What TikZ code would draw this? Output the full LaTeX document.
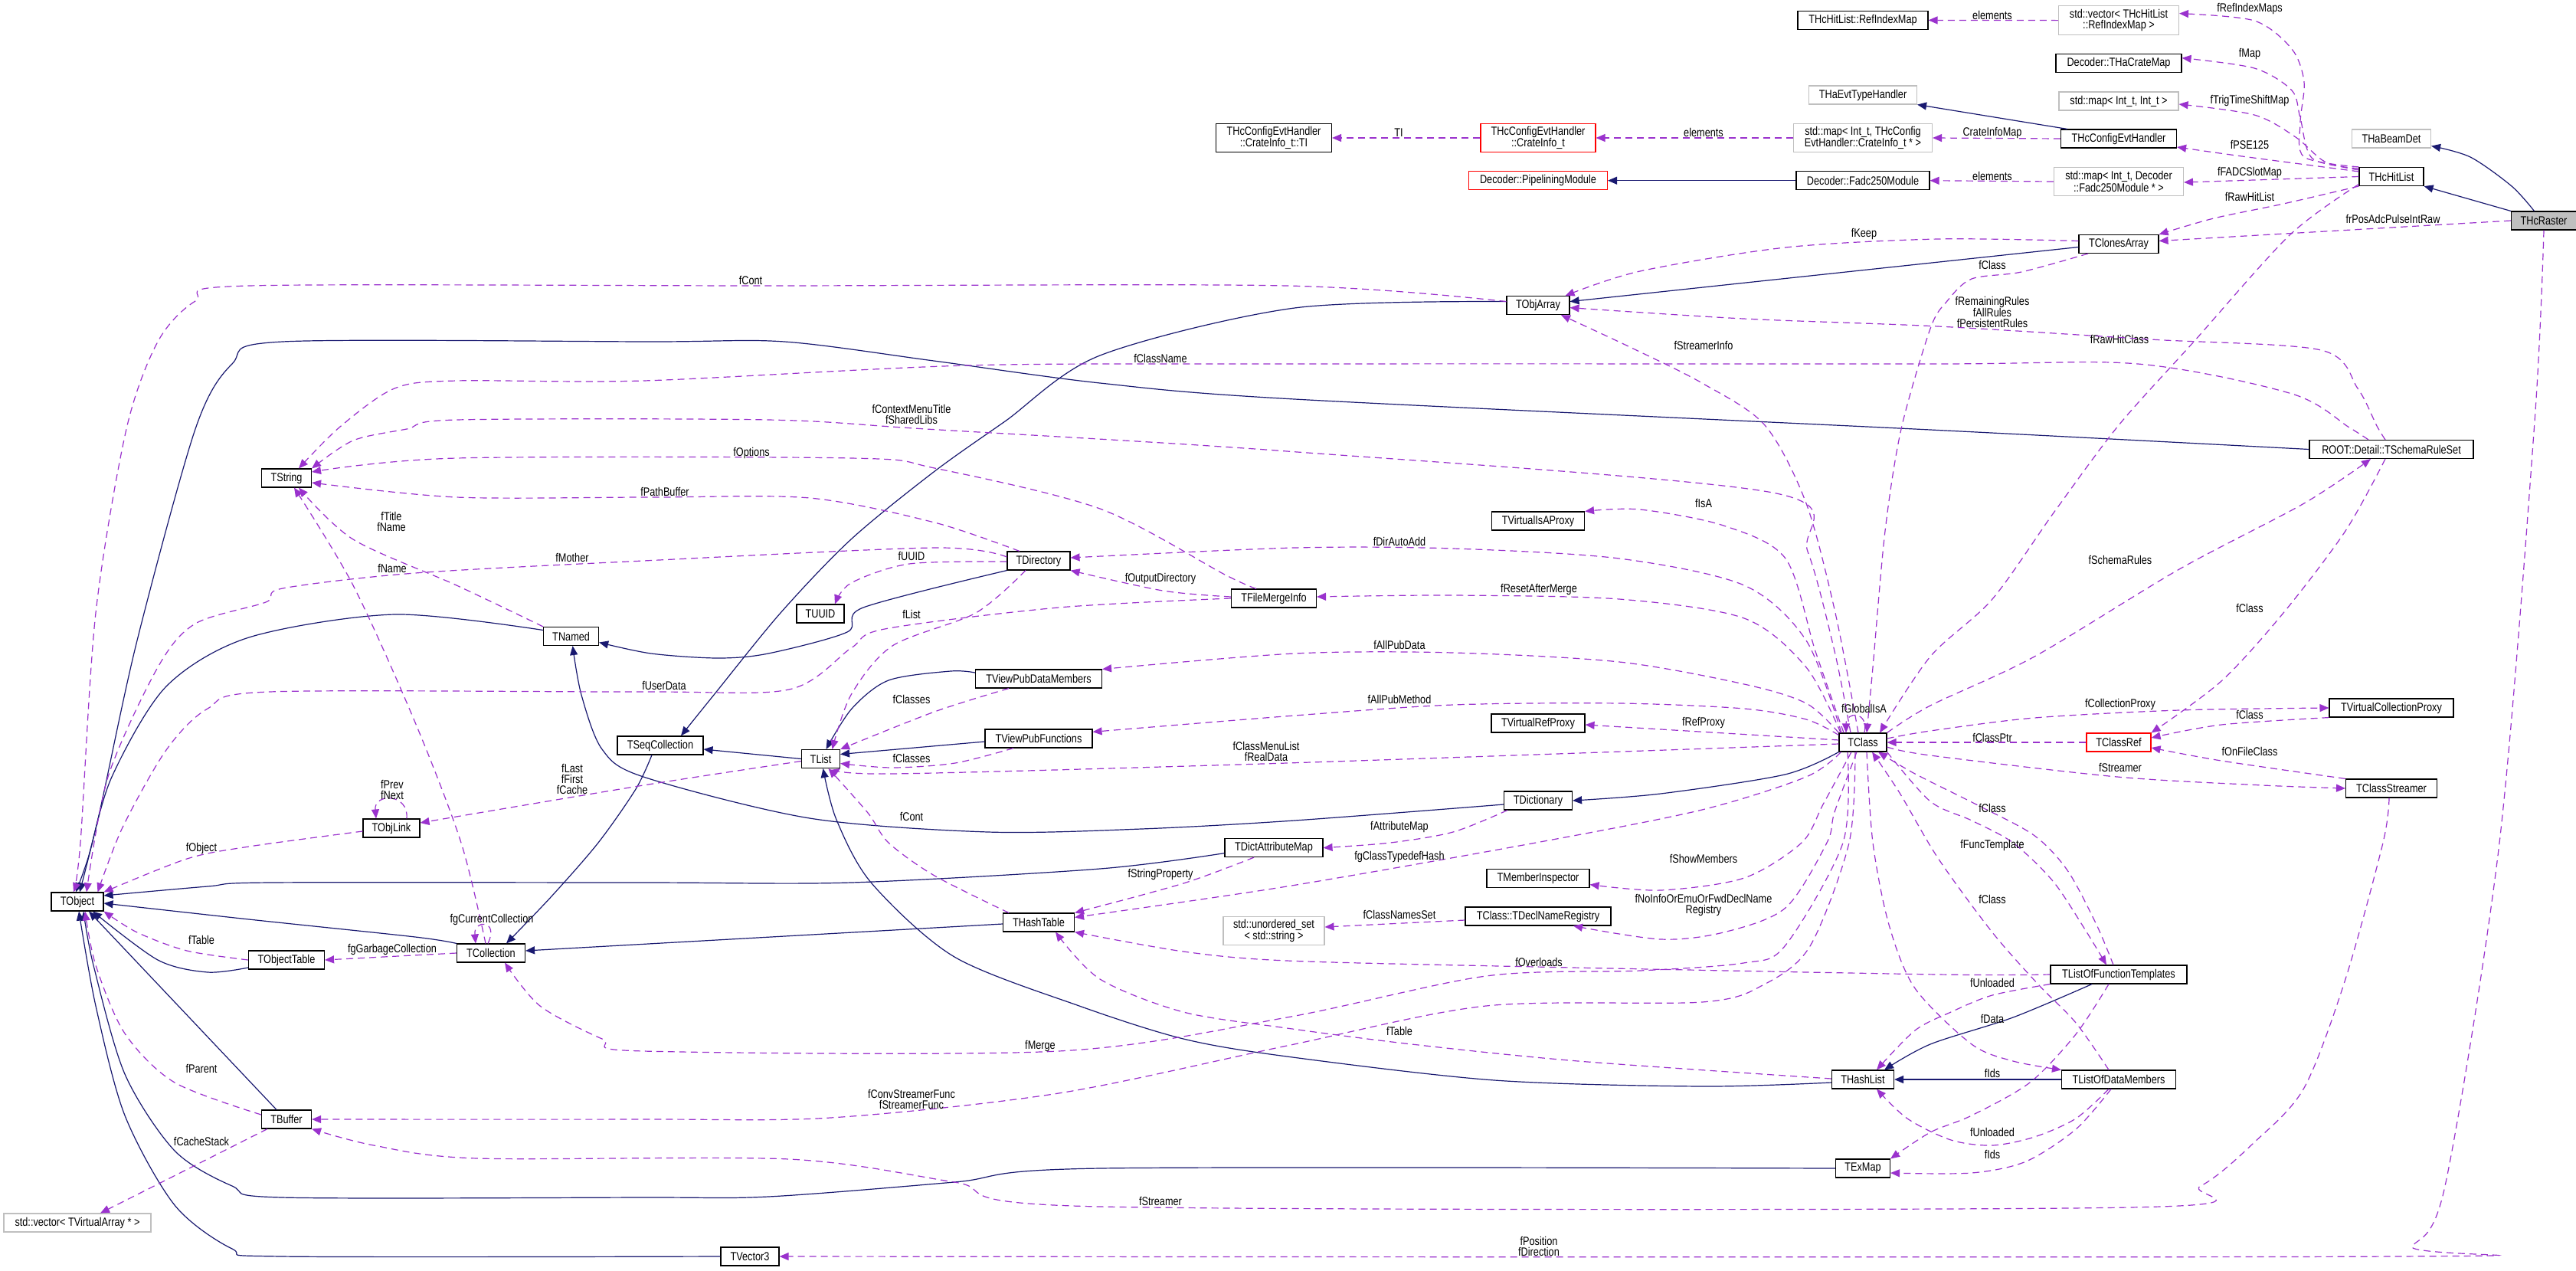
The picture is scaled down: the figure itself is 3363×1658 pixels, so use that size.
\documentclass[tikz,border=0pt]{standalone}
\usepackage{fontspec}
\setmainfont{Liberation Sans}[FakeStretch=0.82]
\usetikzlibrary{arrows.meta}
\definecolor{depcol}{HTML}{9A32CD}
\definecolor{inhcol}{HTML}{191970}
\definecolor{boxgrey}{HTML}{BFBFBF}
\newcommand\dgfont{\fontsize{15.5}{14}\selectfont}
\begin{document}
\begin{tikzpicture}[x=1pt,y=-1pt,
 box/.style={draw, line width=1.1pt, minimum height=24pt, inner sep=2pt, font=\dgfont, align=center, fill=white},
 cls/.style={box, draw=black},
 ext/.style={box, draw=boxgrey},
 redbox/.style={box, draw=red},
 cur/.style={box, draw=black, fill=boxgrey},
 dep/.style={draw=depcol, line width=1.2pt, dash pattern=on 9pt off 6pt, -{Triangle[length=12pt,width=10pt]}},
 inh/.style={draw=inhcol, line width=1.2pt, -{Triangle[length=12pt,width=10pt]}},
 lbl/.style={font=\dgfont, inner sep=0pt, align=center}]
\fill[white] (0,0) rectangle (3363,1658);
\path[use as bounding box] (0,0) rectangle (3363,1658);

% nodes
\node[cur, minimum width=85pt] (THcRaster) at (3321,288) {THcRaster};
\node[ext, minimum width=103pt] (THaBeamDet) at (3122,181) {THaBeamDet};
\node[cls, minimum width=84pt] (THcHitList) at (3122,230.5) {THcHitList};
\node[ext, minimum width=157pt, minimum height=37.5pt] (vecRef) at (2766,26.6) {std::vector< THcHitList\\::RefIndexMap >};
\node[cls, minimum width=164pt] (CrateMap) at (2766,82.7) {Decoder::THaCrateMap};
\node[ext, minimum width=156pt] (mapII) at (2766,132) {std::map< Int\_t, Int\_t >};
\node[cls, minimum width=151pt] (Config) at (2766,181) {THcConfigEvtHandler};
\node[ext, minimum width=169pt, minimum height=37.5pt] (mapFadc) at (2766,237) {std::map< Int\_t, Decoder\\::Fadc250Module * >};
\node[cls, minimum width=104pt] (TClonesArray) at (2766,318.5) {TClonesArray};
\node[cls, minimum width=170pt] (RefIndexMap) at (2432,26.4) {THcHitList::RefIndexMap};
\node[ext, minimum width=141pt] (THaEvtTypeHandler) at (2432,124) {THaEvtTypeHandler};
\node[ext, minimum width=181pt, minimum height=37.5pt] (mapCrate) at (2432,180) {std::map< Int\_t, THcConfig\\EvtHandler::CrateInfo\_t * >};
\node[cls, minimum width=174pt] (Fadc250) at (2432,235.7) {Decoder::Fadc250Module};
\node[redbox, minimum width=150pt, minimum height=37.5pt] (CrateInfo) at (2008,180) {THcConfigEvtHandler\\::CrateInfo\_t};
\node[redbox, minimum width=181pt] (Pipelining) at (2008,235.7) {Decoder::PipeliningModule};
\node[cls, minimum width=82pt] (TObjArray) at (2008,398.6) {TObjArray};
\node[cls, minimum width=151pt, minimum height=37.5pt] (TI) at (1663,180) {THcConfigEvtHandler\\::CrateInfo\_t::TI};
\node[cls, minimum width=214pt] (SchemaRuleSet) at (3122,586.5) {ROOT::Detail::TSchemaRuleSet};
\node[cls, minimum width=162pt] (TVCP) at (3122,924) {TVirtualCollectionProxy};
\node[redbox, minimum width=84pt] (TClassRef) at (2766,969) {TClassRef};
\node[cls, minimum width=119pt] (TClassStreamer) at (3122,1029) {TClassStreamer};
\node[cls, minimum width=121pt] (TVirtualIsAProxy) at (2008,680) {TVirtualIsAProxy};
\node[cls, minimum width=111pt] (TFileMergeInfo) at (1663,781) {TFileMergeInfo};
\node[cls, minimum width=122pt] (TVirtualRefProxy) at (2008,944) {TVirtualRefProxy};
\node[cls, minimum width=62pt] (TClass) at (2432,969) {TClass};
\node[cls, minimum width=89pt] (TDictionary) at (2008,1045) {TDictionary};
\node[cls, minimum width=82pt] (TDirectory) at (1356,732) {TDirectory};
\node[cls, minimum width=62pt] (TUUID) at (1071,801) {TUUID};
\node[cls, minimum width=165pt] (TVPDM) at (1356,886) {TViewPubDataMembers};
\node[cls, minimum width=140pt] (TVPF) at (1356,964) {TViewPubFunctions};
\node[cls, minimum width=50pt] (TList) at (1071.5,990.5) {TList};
\node[cls, minimum width=112pt] (TSeqCollection) at (862,973) {TSeqCollection};
\node[cls, minimum width=72pt] (TNamed) at (745.6,830.5) {TNamed};
\node[cls, minimum width=65pt] (TString) at (374,624) {TString};
\node[cls, minimum width=74pt] (TObjLink) at (511,1081) {TObjLink};
\node[cls, minimum width=68pt] (TObject) at (101,1177) {TObject};
\node[cls, minimum width=99pt] (TObjectTable) at (374,1253) {TObjectTable};
\node[cls, minimum width=89pt] (TCollection) at (641,1244) {TCollection};
\node[cls, minimum width=65pt] (TBuffer) at (374,1461) {TBuffer};
\node[ext, minimum width=192pt] (vecVA) at (101,1596) {std::vector< TVirtualArray * >};
\node[cls, minimum width=93pt] (THashTable) at (1356,1204) {THashTable};
\node[cls, minimum width=76pt] (TVector3) at (979,1640) {TVector3};
\node[cls, minimum width=128pt] (TDictAttributeMap) at (1663,1106.6) {TDictAttributeMap};
\node[ext, minimum width=132pt, minimum height=37.5pt] (uset) at (1663,1215) {std::unordered\_set\\< std::string >};
\node[cls, minimum width=134pt] (TMemberInspector) at (2008,1146.6) {TMemberInspector};
\node[cls, minimum width=190pt] (TDeclNameRegistry) at (2008,1196) {TClass::TDeclNameRegistry};
\node[cls, minimum width=81pt] (THashList) at (2432,1409) {THashList};
\node[cls, minimum width=71pt] (TExMap) at (2432,1525) {TExMap};
\node[cls, minimum width=178pt] (TLOFT) at (2766,1272) {TListOfFunctionTemplates};
\node[cls, minimum width=149pt] (TLODM) at (2766,1409) {TListOfDataMembers};

% inheritance
\draw[inh] plot[smooth] coordinates {(THcRaster.135) (3279,243) (3225,205) ([yshift=3pt]THaBeamDet.south east)};
\draw[inh] (THcRaster.north west) -- (THcHitList.south east);
\draw[inh] ([xshift=9pt]Config.north west) -- (THaEvtTypeHandler.south east);
\draw[inh] (Fadc250.west) -- (Pipelining.east);
\draw[inh] ([yshift=-4pt]TClonesArray.west) -- ([yshift=5pt]TObjArray.east);
\draw[inh] plot[smooth] coordinates {([yshift=5pt]TObjArray.west) (1690,402) (1436,464) (1312,550) (1219,616) (1111,704) (1019,800) (932,907) ([xshift=27pt]TSeqCollection.north)};
\draw[inh] plot[smooth] coordinates {(SchemaRuleSet.west) (2520,561) (1690,521) (1436,500) (1219,471) (1024,446) (850,446) (369,446) (303,475) (255,560) (179,836) (130,1060) ([xshift=3pt]TObject.north)};
\draw[inh] plot[smooth] coordinates {(TDirectory.south west) (1127,793) (1106,825) (1003,853) (937,859) (850,853) ([yshift=-8pt]TNamed.east)};
\draw[inh] plot[smooth] coordinates {([yshift=8pt]TNamed.west) (515,802) (325,832) (217,896) (146,1014) (115,1120) ([xshift=-2pt]TObject.north)};
\draw[inh] plot[smooth] coordinates {([yshift=-5pt]TDictionary.west) (1690,1071) (1490,1082) (1290,1086) (1057,1068) (840,1014) (786,978) (759,907) ([xshift=2pt]TNamed.south)};
\draw[inh] plot[smooth] coordinates {([xshift=-11pt]TSeqCollection.south) (830,1030) (781,1100) (720,1170) ([xshift=20pt]TCollection.north)};
\draw[inh] (TList.west) -- ([yshift=-5pt]TSeqCollection.east);
\draw[inh] plot[smooth] coordinates {([yshift=8pt]TVPDM.west) (1241,876) (1160,888) (1112,925) ([xshift=7pt]TList.north)};
\draw[inh] ([yshift=-4pt]TVPF.west) -- ([yshift=6pt]TList.east);
\draw[inh] plot[smooth] coordinates {([yshift=-7pt]TDictAttributeMap.west) (1436,1134) (1111,1152) (840,1152) (352,1152) (271,1157) ([yshift=8pt]TObject.east)};
\draw[inh] ([yshift=-2pt]THashTable.west) -- ([yshift=3pt]TCollection.east);
\draw[inh] plot[smooth] coordinates {(TCollection.north west) (542,1223) (325,1200) ([yshift=-2pt]TObject.east)};
\draw[inh] plot[smooth] coordinates {([yshift=-10pt]TObjectTable.west) (271,1269) (206,1253) ([xshift=20pt]TObject.south)};
\draw[inh] ([xshift=-13pt]TBuffer.north) -- ([xshift=15pt]TObject.south);
\draw[inh] plot[smooth] coordinates {(TExMap.west) (1436,1525) (1246,1543) (1003,1562) (840,1563) (368,1563) (303,1548) (228,1502) (163,1402) (122,1260) ([xshift=8pt]TObject.south)};
\draw[inh] plot[smooth] coordinates {(TVector3.west) (368,1640) (303,1630) (228,1573) (163,1456) (125,1313) ([xshift=2pt]TObject.south)};
\draw[inh] plot[smooth] coordinates {([yshift=-4pt]THashList.west) (2222,1418) (1951,1410) (1680,1379) (1545,1356) (1409,1313) (1246,1249) (1138,1153) (1092,1070) ([xshift=3pt]TList.south)};
\draw[inh] plot[smooth] coordinates {([xshift=-35pt]TLOFT.south) (2628,1328) (2520,1363) ([xshift=28pt]THashList.north)};
\draw[inh] (TLODM.west) -- (THashList.east);
\draw[inh] plot[smooth] coordinates {(TClass.south west) (2330,1011) (2168,1036) (TDictionary.east)};

% usage
\draw[dep] (THcRaster.west) -- ([yshift=4pt]TClonesArray.east);
\node[lbl] (l1) at (3124,286) {frPosAdcPulseIntRaw};
\draw[dep] plot[smooth] coordinates {(THcHitList.south west) (2981,266) (2890,285) (TClonesArray.north east)};
\node[lbl] (l2) at (2937,257) {fRawHitList};
\draw[dep] plot[smooth] coordinates {(THcHitList.north west) (3008,205) (3003,160) (3008,107) (2992,64) (2943,27) ([yshift=9pt]vecRef.east)};
\node[lbl] (l3) at (2937,11.4) {fRefIndexMaps};
\draw[dep] plot[smooth] coordinates {([yshift=-2pt]THcHitList.north west) (3019,207) (3003,154) (2992,118) (2943,89) ([yshift=7pt]CrateMap.east)};
\node[lbl] (l4) at (2937,70.4) {fMap};
\draw[dep] plot[smooth] coordinates {([yshift=-4pt]THcHitList.north west) (3035,211) (2997,179) (2943,150) ([yshift=-4pt]mapII.east)};
\node[lbl] (l5) at (2937,131.4) {fTrigTimeShiftMap};
\draw[dep] plot[smooth] coordinates {([yshift=-6pt]THcHitList.north west) (2927,204) ([yshift=-11pt]Config.east)};
\node[lbl] (l6) at (2937,189) {fPSE125};
\draw[dep] (THcHitList.west) -- ([yshift=-1pt]mapFadc.east);
\node[lbl] (l7) at (2937,225) {fFADCSlotMap};
\draw[dep] plot[smooth] coordinates {([yshift=-10pt]THcHitList.west) (2989,307) (2864,446) (2766,555) (2682,668) (2601,782) (2520,857) ([xshift=22pt]TClass.north)};
\node[lbl] (l8) at (2767,443) {fRawHitClass};
\draw[dep] (vecRef.west) -- (RefIndexMap.east);
\node[lbl] (l9) at (2601,19.6) {elements};
\draw[dep] (Config.west) -- (mapCrate.east);
\node[lbl] (l10) at (2601,173) {CrateInfoMap};
\draw[dep] (mapCrate.west) -- (CrateInfo.east);
\node[lbl] (l11) at (2224,173) {elements};
\draw[dep] (CrateInfo.west) -- (TI.east);
\node[lbl] (l12) at (1826,173) {TI};
\draw[dep] (mapFadc.west) -- (Fadc250.east);
\node[lbl] (l13) at (2601,229.6) {elements};
\draw[dep] plot[smooth] coordinates {([yshift=4pt]TClonesArray.west) (2530,312) (2331,323) (2141,354) ([xshift=-6pt]TObjArray.north east)};
\node[lbl] (l14) at (2433.5,305) {fKeep};
\draw[dep] plot[smooth] coordinates {([xshift=-40pt]TClonesArray.south) (2639,355) (2574,364) (2542,393) (2520,429) (2482,560) (2461,693) (2445,871) ([xshift=5pt]TClass.north)};
\node[lbl] (l15) at (2601,345.7) {fClass};
\draw[dep] plot[smooth] coordinates {([xshift=-8pt]SchemaRuleSet.north) (3103,556) (3078,507) (3030,457) (2807,443) (2530,426) (2276,416) ([yshift=-3pt]TObjArray.east)};
\node[lbl] (l16) at (2601,407.5) {fRemainingRules\\fAllRules\\fPersistentRules};
\draw[dep] plot[smooth] coordinates {([xshift=-30pt]SchemaRuleSet.north) (3067,558) (2992,514) (2791,475) (2520,475) (1690,475) (1263,477) (840,497) (596,497) (515,507) (444,557) ([xshift=16pt]TString.north)};
\node[lbl] (l17) at (1515,468) {fClassName};
\draw[dep] plot[smooth] coordinates {([xshift=-8pt]SchemaRuleSet.south) (3062,693) (2981,800) (2900,889) (TClassRef.north east)};
\node[lbl] (l18) at (2937,793.5) {fClass};
\draw[dep] plot[smooth] coordinates {(TClass.north east) (2520,921) (2656,857) (2845,743) (3008,657) ([xshift=-27pt]SchemaRuleSet.south)};
\node[lbl] (l19) at (2768,731) {fSchemaRules};
\draw[dep] plot[smooth] coordinates {([xshift=-6pt]TClass.north) (2396,800) (2358,657) (2304,555) (2222,500) (2130,454) ([xshift=30pt]TObjArray.south)};
\node[lbl] (l20) at (2224,450.7) {fStreamerInfo};
\draw[dep] plot[smooth] coordinates {([xshift=-16pt]TClass.north) (2395,850) (2360,720) (2314,643) (1680,589) (1209,560) (1003,548) (596,548) (531,560) (461,575) (TString.north east)};
\node[lbl] (l21) at (1190,541) {fContextMenuTitle\\fSharedLibs};
\draw[dep] plot[smooth] coordinates {([xshift=-25pt]TClass.north) (2370,850) (2331,729) (2250,686) (2141,665) (TVirtualIsAProxy.north east)};
\node[lbl] (l22) at (2224,657) {fIsA};
\draw[dep] plot[smooth] coordinates {([xshift=-28pt]TClass.north) (2358,836) (2277,764) (2114,729) (1897,716) (1690,715) ([yshift=4pt]TDirectory.east)};
\node[lbl] (l23) at (1827,707) {fDirAutoAdd};
\draw[dep] plot[smooth] coordinates {([xshift=-29pt]TClass.north) (2358,871) (2277,807) (2114,782) (1897,777) ([yshift=2pt]TFileMergeInfo.east)};
\node[lbl] (l24) at (2009,769) {fResetAfterMerge};
\draw[dep] plot[smooth] coordinates {(TClass.north west) (2358,918) (2277,893) (2114,864) (1897,852) (1690,853) (TVPDM.north east)};
\node[lbl] (l25) at (1827,842) {fAllPubData};
\draw[dep] plot[smooth] coordinates {([yshift=-3pt]TClass.north west) (2358,939) (2277,925) (2114,918) (1897,920) (1690,934) (TVPF.7)};
\node[lbl] (l26) at (1827,913) {fAllPubMethod};
\draw[dep] ([yshift=3pt]TClass.west) -- ([yshift=-2pt]TVirtualRefProxy.east);
\node[lbl] (l27) at (2224,943.5) {fRefProxy};
\draw[dep] plot[smooth] coordinates {([yshift=-2pt]TClass.west) (1680,996) (1165,1010) (TList.south east)};
\node[lbl] (l28) at (1653,981) {fClassMenuList\\fRealData};
\draw[dep] ([xshift=2pt]TClass.north) .. controls (2440,928) and (2410,928) .. ([xshift=-22pt]TClass.north);
\node[lbl] (l29) at (2433.5,925) {fGlobalIsA};
\draw[dep] plot[smooth] coordinates {([yshift=5pt]TClass.east) (2520,954) (2656,937) (2845,927) (TVCP.west)};
\node[lbl] (l30) at (2768,919.6) {fCollectionProxy};
\draw[dep] (TClassRef.west) -- (TClass.east);
\node[lbl] (l31) at (2601,962.5) {fClassPtr};
\draw[dep] plot[smooth] coordinates {(TVCP.south west) (2900,946) ([yshift=6pt]TClassRef.east)};
\node[lbl] (l32) at (2937,933) {fClass};
\draw[dep] plot[smooth] coordinates {(TClassStreamer.north west) (2900,993) ([yshift=-7pt]TClassRef.east)};
\node[lbl] (l33) at (2937,981) {fOnFileClass};
\draw[dep] plot[smooth] coordinates {([yshift=-6pt]TClass.east) (2520,986) (2764,1014) (2954,1025) (TClassStreamer.west)};
\node[lbl] (l34) at (2768,1001.7) {fStreamer};
\draw[dep] plot[smooth] coordinates {([xshift=-40pt]TDictionary.south) (1897,1086) (1815,1100) (TDictAttributeMap.east)};
\node[lbl] (l35) at (1827,1079.6) {fAttributeMap};
\draw[dep] plot[smooth] coordinates {([xshift=3pt]TClass.south west) (2358,1014) (2222,1057) (2005,1100) (1680,1157) (THashTable.8)};
\node[lbl] (l36) at (1827,1118.5) {fgClassTypedefHash};
\draw[dep] plot[smooth] coordinates {([xshift=-26pt]TDictAttributeMap.south) (1545,1153) (THashTable.north east)};
\node[lbl] (l37) at (1515,1141.6) {fStringProperty};
\draw[dep] plot[smooth] coordinates {([xshift=-15pt]TClass.south) (2380,1050) (2352,1100) (2277,1146) (2168,1162) ([yshift=-8pt]TMemberInspector.east)};
\node[lbl] (l38) at (2224,1121) {fShowMembers};
\draw[dep] plot[smooth] coordinates {([xshift=-8pt]TClass.south) (2395,1060) (2385,1100) (2331,1185) (2250,1217) (2168,1226) ([xshift=46pt]TDeclNameRegistry.south)};
\node[lbl] (l39) at (2224,1181) {fNoInfoOrEmuOrFwdDeclName\\Registry};
\draw[dep] ([yshift=-5pt]TDeclNameRegistry.west) -- ([yshift=5pt]uset.east);
\node[lbl] (l40) at (1827,1194) {fClassNamesSet};
\draw[dep] plot[smooth] coordinates {(TLOFT.west) (2530,1272) (2005,1262) (1680,1254) (1545,1242) (THashTable.south east)};
\node[lbl] (l41) at (2009,1255.6) {fOverloads};
\draw[dep] plot[smooth] coordinates {([xshift=-20pt]TClass.south) (2406,1100) (2330,1235) (2276,1257) (2141,1267) (1940,1274) (1680,1328) (1382,1372) (840,1372) (786,1356) (705,1313) ([xshift=18pt]TCollection.south)};
\node[lbl] (l42) at (1358,1365) {fMerge};
\draw[dep] plot[smooth] coordinates {([xshift=-10pt]TClass.south) (2414,1100) (2363,1235) (2303,1285) (2222,1308) (1940,1313) (1680,1365) (1382,1427) (1084,1459) (840,1461) (TBuffer.east)};
\node[lbl] (l43) at (1190,1434.6) {fConvStreamerFunc\\fStreamerFunc};
\draw[dep] plot[smooth] coordinates {([xshift=-3pt]TClassStreamer.south) (3111,1100) (3062,1278) (3008,1420) (2943,1491) (2873,1548) (2780,1576) (1436,1575) (1246,1543) (1030,1513) (623,1512) (488,1495) (TBuffer.south east)};
\node[lbl] (l44) at (1515,1568) {fStreamer};
\draw[dep] plot[smooth] coordinates {(THcRaster.south) (3309,550) (3263,1100) (3192,1548) (3149,1627) (3127,1640) (TVector3.east)};
\node[lbl] (l45) at (2009,1627) {fPosition\\fDirection};
\draw[dep] plot[smooth] coordinates {([yshift=1pt]THashList.west) (2060,1385) (1843,1363) (1680,1342) (1545,1321) (1436,1278) ([xshift=22pt]THashTable.south)};
\node[lbl] (l46) at (1827,1346) {fTable};
\draw[dep] plot[smooth] coordinates {(TLOFT.south west) (2601,1299) (2547,1321) (2500,1345) ([xshift=18pt]THashList.north)};
\node[lbl] (l47) at (2601,1283) {fUnloaded};
\draw[dep] plot[smooth] coordinates {([xshift=-13pt]TLOFT.south) (2710,1350) (2650,1413) (2574,1456) (2520,1478) (TExMap.north east)};
\node[lbl] (l48) at (2601,1401) {fIds};
\draw[dep] plot[smooth] coordinates {([xshift=-13pt]TLODM.south) (2710,1460) (2656,1484) (2601,1495) (2547,1488) (2490,1460) ([xshift=18pt]THashList.south)};
\node[lbl] (l49) at (2601,1478) {fUnloaded};
\draw[dep] plot[smooth] coordinates {([xshift=-10pt]TLODM.south) (2710,1474) (2645,1516) (2574,1531) ([yshift=-6pt]TExMap.east)};
\node[lbl] (l50) at (2601,1506.5) {fIds};
\draw[dep] plot[smooth] coordinates {([xshift=-13pt]TLODM.north) (2710,1335) (2661,1285) (2601,1217) (2530,1120) (2480,1035) ([xshift=12pt]TClass.south)};
\node[lbl] (l51) at (2601,1173.7) {fClass};
\draw[dep] plot[smooth] coordinates {(TClass.south east) (2520,1046) (2574,1071) (2628,1100) (2680,1150) (2720,1210) ([xshift=-16pt]TLOFT.north)};
\node[lbl] (l52) at (2601,1103) {fFuncTemplate};
\draw[dep] plot[smooth] coordinates {([xshift=-7pt]TLOFT.north) (2737,1207) (2699,1136) (2655,1090) (2580,1050) (2500,1010) ([xshift=20pt]TClass.south)};
\node[lbl] (l53) at (2601,1054.6) {fClass};
\draw[dep] plot[smooth] coordinates {([xshift=5pt]TClass.south) (2445,1100) (2466,1207) (2500,1290) (2574,1363) (2628,1385) (TLODM.north west)};
\node[lbl] (l54) at (2601,1329.6) {fData};
\draw[dep] plot[smooth] coordinates {([yshift=-1pt]TDirectory.west) (1187,736) (1111,761) ([xshift=19pt]TUUID.north)};
\node[lbl] (l55) at (1190,726) {fUUID};
\draw[dep] plot[smooth] coordinates {([xshift=-17pt]TDirectory.south) (1274,800) (1165,843) (1111,907) ([xshift=15pt]TList.north)};
\node[lbl] (l56) at (1190,801.8) {fList};
\draw[dep] plot[smooth] coordinates {([yshift=2pt]TFileMergeInfo.west) (1518,771) (TDirectory.south east)};
\node[lbl] (l57) at (1515,755) {fOutputDirectory};
\draw[dep] plot[smooth] coordinates {([xshift=-23pt]TFileMergeInfo.north) (1599,750) (1436,664) (1220,611) (1111,598) (596,598) ([yshift=8pt]TString.east)};
\node[lbl] (l58) at (981,591) {fOptions};
\draw[dep] plot[smooth] coordinates {([xshift=-25pt]TDirectory.north) (1220,682) (1057,650) (850,649) (596,649) ([yshift=-6pt]TString.east)};
\node[lbl] (l59) at (868,642) {fPathBuffer};
\draw[dep] plot[smooth] coordinates {(TNamed.north west) (596,764) (461,704) ([xshift=16pt]TString.south)};
\node[lbl] (l60) at (511,681) {fTitle\\fName};
\draw[dep] plot[smooth] coordinates {([xshift=-7pt]TCollection.north) (602,1100) (542,943) (461,764) ([xshift=10pt]TString.south)};
\node[lbl] (l61) at (512,741.8) {fName};
\draw[dep] plot[smooth] coordinates {([yshift=5pt]TDirectory.west) (1220,715) (840,732) (542,748) (369,768) (347,786) (255,814) (206,871) (141,1014) ([xshift=12pt]TObject.north)};
\node[lbl] (l62) at (747,727.5) {fMother};
\draw[dep] plot[smooth] coordinates {(TFileMergeInfo.west) (1382,793) (1155,821) (1111,846) (1030,900) (840,903) (352,903) (271,925) (217,979) (160,1080) ([xshift=-8pt]TObject.north east)};
\node[lbl] (l63) at (867,895) {fUserData};
\draw[dep] plot[smooth] coordinates {([yshift=5pt]TObjArray.west) (1680,373) (1000,373) (325,373) (255,393) (206,446) (165,560) (125,800) (105,1100) ([xshift=-5pt]TObject.north)};
\node[lbl] (l64) at (980,366) {fCont};
\draw[dep] plot[smooth] coordinates {([yshift=-4pt]TObjLink.west) (325,1105) (244,1121) (TObject.north east)};
\node[lbl] (l65) at (263,1107) {fObject};
\draw[dep] plot[smooth] coordinates {(TObjectTable.west) (244,1241) (179,1217) (TObject.south east)};
\node[lbl] (l66) at (263,1227) {fTable};
\draw[dep] plot[smooth] coordinates {([yshift=6pt]TBuffer.west) (228,1413) (163,1349) (125,1260) ([xshift=10pt]TObject.south)};
\node[lbl] (l67) at (263,1395) {fParent};
\draw[dep] ([xshift=20pt]TObjLink.north) .. controls (534,1035) and (488,1035) .. ([xshift=-20pt]TObjLink.north);
\node[lbl] (l68) at (512,1031) {fPrev\\fNext};
\draw[dep] plot[smooth] coordinates {([yshift=-3pt]TList.west) (840,1025) ([yshift=7pt]TObjLink.east)};
\node[lbl] (l69) at (747,1017) {fLast\\fFirst\\fCache};
\draw[dep] ([xshift=-4pt]TCollection.north) .. controls (652,1200) and (618,1200) .. ([xshift=-20pt]TCollection.north);
\node[lbl] (l70) at (642,1200) {fgCurrentCollection};
\draw[dep] (TCollection.west) -- (TObjectTable.east);
\node[lbl] (l71) at (512,1239) {fgGarbageCollection};
\draw[dep] ([xshift=-25pt]TBuffer.south) -- ([xshift=30pt]vecVA.north);
\node[lbl] (l72) at (263,1490) {fCacheStack};
\draw[dep] plot[smooth] coordinates {([xshift=-39pt]TVPDM.south) (1220,929) (TList.north east)};
\node[lbl] (l73) at (1190,913) {fClasses};
\draw[dep] plot[smooth] coordinates {([xshift=-33pt]TVPF.south) (1247,996) (1165,1002) ([yshift=-6pt]TList.east)};
\node[lbl] (l74) at (1190,990) {fClasses};
\draw[dep] plot[smooth] coordinates {([xshift=-39pt]THashTable.north) (1220,1143) (1160,1100) (1133,1061) ([xshift=10pt]TList.south)};
\node[lbl] (l75) at (1190,1066) {fCont};
\end{tikzpicture}
\end{document}
